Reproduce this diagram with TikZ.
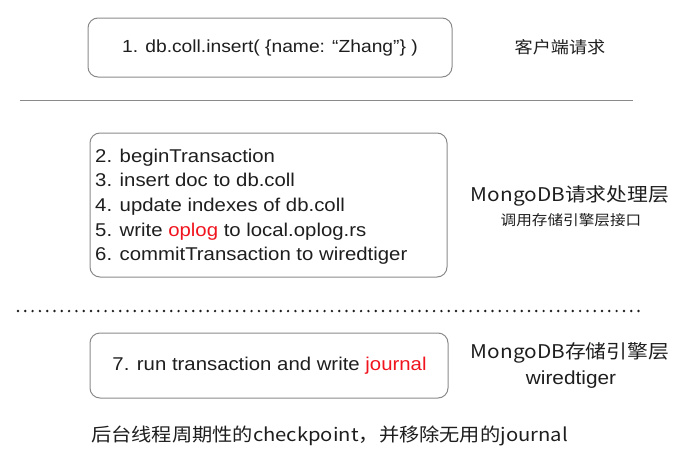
\documentclass[tikz,border=0pt]{standalone}
\usepackage{fontspec}
\setmainfont{Liberation Sans}[FakeStretch=1.1]
\newfontfamily\cjk{Noto Sans CJK SC}[FakeStretch=1.1]
\definecolor{boxgray}{HTML}{8A8A8A}
\definecolor{txt}{HTML}{1E1E1E}
\definecolor{hl}{HTML}{F0141E}
\begin{document}
\begin{tikzpicture}[x=1pt,y=-1pt,
  stagebox/.style={draw=boxgray, line width=1pt, rounded corners=10pt},
  body/.style={text=txt, font=\fontsize{18.5}{24.7}\selectfont, inner sep=0pt},
  side/.style={text=txt, font=\cjk\fontsize{18.9}{22}\selectfont, inner sep=0pt},
  sidesmall/.style={text=txt, font=\cjk\fontsize{14.2}{16}\selectfont, inner sep=0pt}]
\useasboundingbox (0,0) rectangle (683,450);
% boxes
\draw[stagebox] (88,18) rectangle (452,77);
\node[body, font=\fontsize{17.5}{24}\selectfont] (t1) at (270,47.5) {1. db.coll.insert( \{name: “Zhang”\} )};
\node[side, font=\cjk\fontsize{16.5}{22}\selectfont] (s1) at (560,47) {客户端请求};
\coordinate (l1a) at (20,100);
\coordinate (l1b) at (633,100);
\draw[boxgray, line width=1pt] (l1a) -- (l1b);
\draw[stagebox] (90,133) rectangle (447,277);
\node[body, anchor=north west, align=left] (t2) at (95,148.5) {2. beginTransaction\\3. insert doc to db.coll\\4. update indexes of db.coll\\5. write \textcolor{hl}{oplog} to local.oplog.rs\\6. commitTransaction to wiredtiger};
\node[side] (s2) at (570,196) {MongoDB请求处理层};
\node[sidesmall] (s2b) at (571,220) {调用存储引擎层接口};
\coordinate (l2a) at (18,311);
\coordinate (l2b) at (645,311);
\draw[txt, line width=2.7pt, line cap=round, dash pattern=on 0pt off 7.3pt] (l2a) -- (l2b);
\draw[stagebox] (90,333) rectangle (448,398);
\node[body] (t3) at (269.5,366) {7. run transaction and write \textcolor{hl}{journal}};
\node[side] (s3) at (570,353) {MongoDB存储引擎层};
\node[body, font=\fontsize{18.9}{22}\selectfont] (s3b) at (571,380) {wiredtiger};
\node[side, font=\cjk\fontsize{18.4}{22}\selectfont, anchor=west] (bt) at (91,436) {后台线程周期性的checkpoint，并移除无用的journal};
\end{tikzpicture}
\end{document}
